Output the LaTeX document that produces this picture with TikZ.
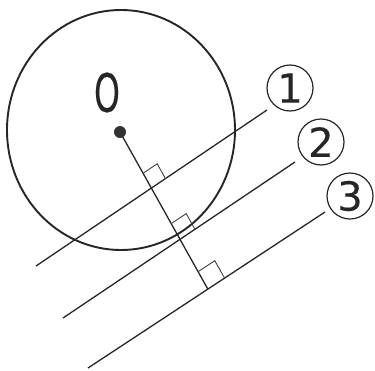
\documentclass[tikz,border=0pt]{standalone}
\usepackage{fontspec}
\newfontfamily\thinfont{DejaVu Sans ExtraLight}[FakeBold=0.2]
\usetikzlibrary{calc}
\begin{document}
\begin{tikzpicture}[x=1pt,y=-1pt,
  bigcircle/.style={line width=1.9pt, draw=black!85},
  geoline/.style={line width=1.3pt, draw=black!85},
  ramark/.style={line width=0.9pt, draw=black!75},
  numlabel/.style={circle, draw=black!85, text=black!85, line width=1.2pt, minimum size=46pt, inner sep=0pt,
    font=\thinfont\bfseries\fontsize{40}{40}\selectfont},
  olabel/.style={inner sep=0pt, text=black!85, font=\thinfont\bfseries\fontsize{53}{53}\selectfont}]
\useasboundingbox (0,0) rectangle (375,370);
\coordinate (O) at (120,132);
\coordinate (C) at (121,130);
\draw[bigcircle] (C) ellipse [x radius=114pt, y radius=120pt];
% lines
\coordinate (A1) at (36,266);  \coordinate (B1) at (267,110);
\coordinate (A2) at (63,318);  \coordinate (B2) at (295,162);
\coordinate (A3) at (88,368);  \coordinate (B3) at (325,212);
\draw[geoline] (A1) -- (B1);
\draw[geoline] (A2) -- (B2);
\draw[geoline] (A3) -- (B3);
% perpendicular
\coordinate (P) at (intersection of O--{(207.5,288.5)} and A3--B3);
\coordinate (F1) at (intersection of O--P and A1--B1);
\coordinate (F2) at (intersection of O--P and A2--B2);
\draw[geoline] (O) -- (P);
% right-angle marks
\foreach \f/\b/\s in {F1/B1/17, F2/B2/18, P/B3/20}{
  \coordinate (U) at ($(\f)!\s pt!(O)$);
  \coordinate (V) at ($(\f)!\s pt!(\b)$);
  \draw[ramark] (U) -- ($(U)+(V)-(\f)$) -- (V);
}
% centre point
\fill[black!80] (O) circle[radius=6pt];
\node[olabel] (Olab) at (107,92.5) {\scalebox{0.62}[1]{O}};
% numbered labels
\node[numlabel] (n1) at (290,88) {1};
\node[numlabel] (n2) at (321,142) {2};
\node[numlabel] (n3) at (350,196) {3};
\end{tikzpicture}
\end{document}
